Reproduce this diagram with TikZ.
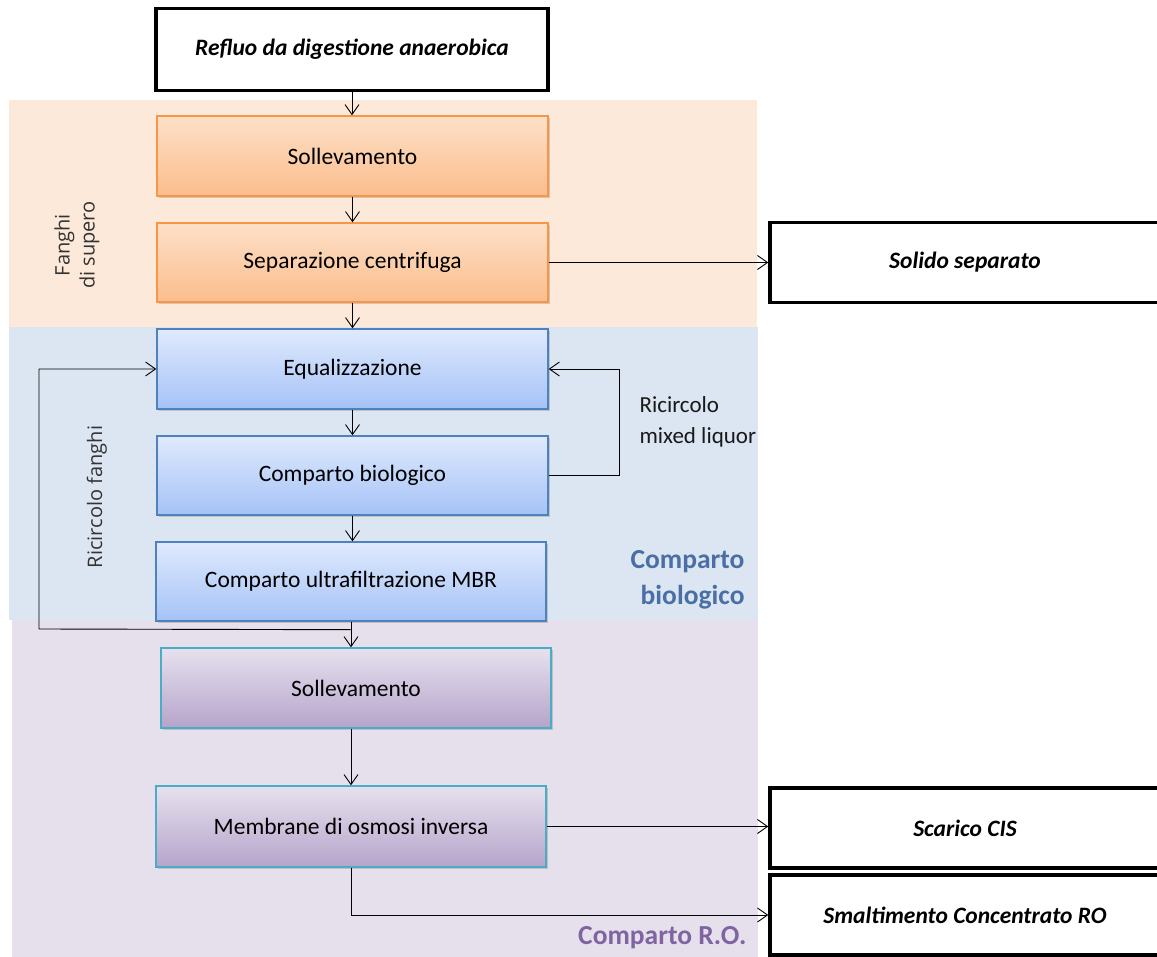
\documentclass[tikz,border=0pt]{standalone}
\usepackage{fontspec}
\setmainfont{Carlito}
\newfontfamily\vfont{Open Sans}
\usetikzlibrary{arrows.meta,shadows,calc}
\definecolor{bgor}{HTML}{FDE9D9}
\definecolor{bgbl}{HTML}{DCE6F2}
\definecolor{bgpu}{HTML}{E6E0EC}
\definecolor{ortop}{HTML}{FDE0C8}
\definecolor{orbot}{HTML}{FBBD8C}
\definecolor{orln}{HTML}{F79646}
\definecolor{bltop}{HTML}{DFEAFD}
\definecolor{blbot}{HTML}{A5C2F7}
\definecolor{blln}{HTML}{4F81BD}
\definecolor{putop}{HTML}{E6E1EE}
\definecolor{pubot}{HTML}{B6A4CB}
\definecolor{puln}{HTML}{4BACC6}
\definecolor{bltxt}{HTML}{4A6FA5}
\definecolor{putxt}{HTML}{8064A2}
\tikzset{
  arr/.style={draw=black, line width=0.9pt, -{Straight Barb[length=10pt,width=14pt]}},
  procbox/.style={rectangle, minimum width=391pt, minimum height=80pt, inner sep=0pt,
     font=\fontsize{23.5}{28}\selectfont, line width=1.4pt,
     drop shadow={shadow xshift=1.5pt, shadow yshift=-2pt, opacity=0.35}},
  orbox/.style={procbox, draw=orln, top color=ortop, bottom color=orbot},
  blbox/.style={procbox, draw=blln, top color=bltop, bottom color=blbot},
  pubox/.style={procbox, draw=puln, top color=putop, bottom color=pubot},
  endbox/.style={rectangle, draw=black, line width=3.5pt, fill=white, minimum width=400pt,
     minimum height=80pt, inner sep=0pt, font=\bfseries\itshape\fontsize{23.5}{28}\selectfont},
  sidelbl/.style={font=\vfont\fontsize{20}{25}\selectfont, text=black!80, align=center}
}
\begin{document}
\begin{tikzpicture}[x=1pt,y=-1pt]
\useasboundingbox (0,0) rectangle (1157,957);
\fill[white] (0,0) rectangle (1157,957);
% regions
\fill[bgor] (9,100) rectangle (757,327);
\fill[bgbl] (9,327) rectangle (758,620);
\fill[bgpu] (12,620) rectangle (758,957);
% boxes
\node[endbox, minimum width=392pt, minimum height=82pt] (refluo) at (352,49.5) {Refluo da digestione anaerobica};
\node[orbox] (sol1) at (352.5,156) {Sollevamento};
\node[orbox, minimum height=79pt] (sep) at (352.5,262.5) {Separazione centrifuga};
\node[blbox] (eq) at (352.5,369) {Equalizzazione};
\node[blbox, minimum height=79pt] (bio) at (352.5,475.5) {Comparto biologico};
\node[blbox, minimum width=390pt, minimum height=79pt] (mbr) at (351,581.5) {Comparto ultrafiltrazione MBR};
\node[pubox, minimum width=390pt] (sol2) at (356,688) {Sollevamento};
\node[pubox, minimum width=390pt, minimum height=81pt] (mem) at (351,826.5) {Membrane di osmosi inversa};
\node[endbox] (solido) at (970,262.5) {\hspace*{-10pt}Solido separato};
\node[endbox] (scarico) at (970,828) {\hspace*{-10pt}Scarico CIS};
\node[endbox] (smalt) at (970,915) {\hspace*{-10pt}Smaltimento Concentrato RO};
% labels
\node[sidelbl, rotate=90] (fsup) at (77,245) {Fanghi\\di supero};
\node[sidelbl, rotate=90] (rfan) at (97,497) {Ricircolo fanghi};
\node[font=\fontsize{23}{31}\selectfont, align=left, anchor=west, text=black!90] (rml) at (636,422) {Ricircolo\\mixed liquor};
\node[font=\bfseries\fontsize{27.5}{36}\selectfont, text=bltxt, align=right, anchor=east] (cbio) at (748,580) {Comparto\\biologico};
\node[font=\bfseries\fontsize{27.5}{32}\selectfont, text=putxt, anchor=east] (cro) at (750,938) {Comparto R.O.};
% connectors
\draw[arr] (refluo.south) -- (sol1.north -| refluo.south);
\draw[arr] (sol1.south) -- (sep.north);
\draw[arr] (sep.south) -- (eq.north);
\draw[arr] (eq.south) -- (bio.north);
\draw[arr] (bio.south) -- (mbr.north -| bio.south);
\draw[arr] (mbr.south) -- (mbr.south |- sol2.north);
\draw[arr] (sol2.south -| mem.south) -- (mem.north);
\draw[arr] (sep.east) -- (solido.west);
\draw[arr] (mem.east) -- (mem.east -| scarico.west);
\draw[arr] (mem.south) |- (smalt.west);
\draw[arr] (bio.east) -- ++(71,0) |- (eq.east);
\coordinate (jn) at ($(mbr.south)+(0,8)$);
\coordinate (fl) at (39,629);
\draw[arr] (jn) -- (fl) |- (eq.west);
\end{tikzpicture}
\end{document}
